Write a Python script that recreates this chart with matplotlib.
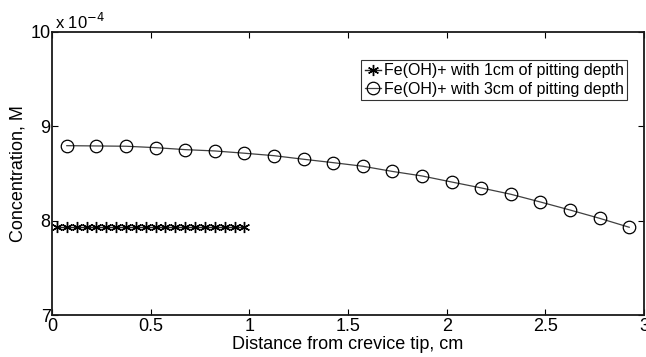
import matplotlib
matplotlib.use("Agg")
import matplotlib.pyplot as plt
import numpy as np

plt.rcParams['font.family'] = ['Liberation Sans', 'DejaVu Sans']

# Data (concentration in units of 1e-4 M)
x_1cm = [0.025, 0.075, 0.125, 0.175, 0.225, 0.275, 0.325, 0.375, 0.425, 0.475,
         0.525, 0.575, 0.625, 0.675, 0.725, 0.775, 0.825, 0.875, 0.925, 0.975]
y_1cm = [7.935] * 20

x_3cm = [0.075, 0.225, 0.375, 0.525, 0.675, 0.825, 0.975, 1.125, 1.275, 1.425,
         1.575, 1.725, 1.875, 2.025, 2.175, 2.325, 2.475, 2.625, 2.775, 2.925]
y_3cm = [8.795, 8.792, 8.789, 8.774, 8.753, 8.739, 8.715, 8.689, 8.651, 8.615,
         8.577, 8.522, 8.474, 8.410, 8.347, 8.280, 8.198, 8.113, 8.025, 7.930]

labels = ['Fe(OH)+ with 1cm of pitting depth', 'Fe(OH)+ with 3cm of pitting depth']
xticks = [0, 0.5, 1, 1.5, 2, 2.5, 3]
xticklabels = ['0', '0.5', '1', '1.5', '2', '2.5', '3']
yticks = [7, 8, 9, 10]
yticklabels = ['7', '8', '9', '10']

fig = plt.figure(figsize=(6.46, 3.57), dpi=100)
ax = fig.add_axes([52/646, 1 - 315/357, 592/646, 283/357])

ax.plot(x_1cm, y_1cm, color='0.15', lw=1.0, marker=(6, 2, 0), ms=8,
        mec='black', mew=1.0, label=labels[0])
ax.plot(x_3cm, y_3cm, color='0.25', lw=0.9, marker='o', ms=9, mfc='none',
        mec='black', mew=0.9, label=labels[1])

ax.set_xlim(0, 3)
ax.set_ylim(7, 10)
ax.set_xticks(xticks)
ax.set_xticklabels(xticklabels)
ax.set_yticks(yticks)
ax.set_yticklabels(yticklabels)
ax.tick_params(direction='in', length=4, width=0.8, top=True, right=True,
               labelsize=13)
ax.tick_params(axis='x', pad=2)
ax.tick_params(axis='y', pad=1)
for s in ax.spines.values():
    s.set_linewidth(1.3)
    s.set_color('0.1')

ax.set_xlabel('Distance from crevice tip, cm', fontsize=13, labelpad=1)
ax.set_ylabel('Concentration, M', fontsize=13, labelpad=3)
ax.text(0.005, 1.0, r'x 10$^{-4}$', transform=ax.transAxes, fontsize=12,
        ha='left', va='bottom')

leg = ax.legend(loc='upper right', bbox_to_anchor=(0.971, 0.901), fontsize=11.5,
                frameon=True, fancybox=False, edgecolor='black',
                borderpad=0.2, labelspacing=0.22, handlelength=1.0,
                handletextpad=0.2, borderaxespad=0)
leg.get_frame().set_linewidth(0.8)

fig.savefig('out.png', dpi=100)
